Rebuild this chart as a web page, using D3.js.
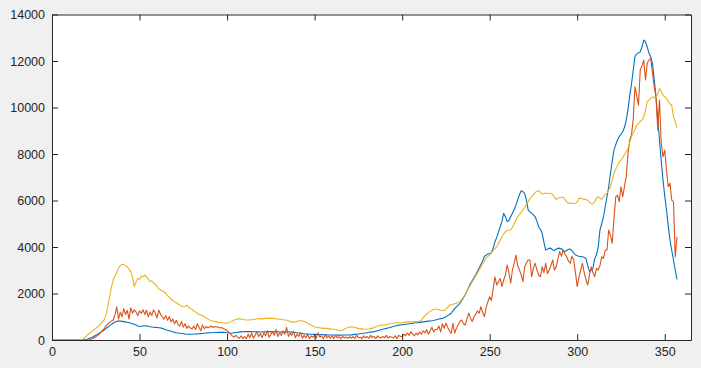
<!DOCTYPE html>
<html>
<head>
<meta charset="utf-8">
<title></title>
<style>
    body { margin: 0; background: #f0f0f0; }
    svg { font-family: 'Liberation Sans', Arial, sans-serif; }
    .tick text { fill: #262626; font-size: 12.5px; }
    .tick line, .domain { stroke: #262626; }
</style>
</head>
<body>
<figure style="margin:0"></figure>
<script src="https://d3js.org/d3.v7.min.js"></script>
<script>

// ---------- data (one value per day, day 0 .. 357) ----------
const xTicks = [0, 50, 100, 150, 200, 250, 300, 350]
const yTicks = [0, 2000, 4000, 6000, 8000, 10000, 12000, 14000]

const blue = [
    0,0,0,0,0,0,0,0,0,0,
    0,0,0,0,0,0,0,0,0,10,
    30,60,90,120,160,200,240,290,340,390,
    440,500,560,620,680,730,770,800,820,810,
    800,790,780,760,750,720,700,680,650,600,
    580,590,600,610,600,590,570,560,550,545,
    540,530,520,500,470,440,420,400,380,350,
    330,310,300,290,280,270,260,250,250,245,
    250,255,260,265,270,275,280,290,300,305,
    310,315,320,320,325,330,330,335,330,320,
    310,300,290,300,310,320,330,340,350,355,
    360,360,365,360,360,355,355,350,350,345,
    345,350,350,355,360,360,360,355,350,350,
    345,340,340,345,350,350,345,340,330,320,
    310,300,290,280,270,260,255,250,245,245,
    240,240,235,230,230,225,220,220,215,215,
    215,215,215,210,210,210,215,215,215,215,
    215,220,230,240,250,260,270,280,290,300,
    315,330,340,350,360,380,400,420,440,460,
    480,500,520,540,560,580,600,620,640,645,
    660,670,680,690,700,710,720,730,740,745,
    760,770,780,790,800,810,820,830,840,860,
    880,900,920,930,960,1000,1050,1100,1150,1250,
    1350,1420,1500,1580,1700,1820,1950,2100,2250,2440,
    2550,2680,2800,2950,3100,3250,3400,3600,3650,3700,
    3720,3750,3950,4230,4400,4650,4870,5100,5450,5300,
    5090,5150,5300,5450,5600,5800,6020,6250,6420,6380,
    6300,6020,5590,5520,5450,5380,5300,5100,4870,4750,
    4590,4200,3870,3900,3950,3940,3870,3850,3900,3950,
    3940,3920,3850,3800,3850,3900,3910,3850,3750,3655,
    3620,3600,3590,3580,3550,3510,3200,2940,3000,3080,
    3500,3655,4000,4730,5000,5300,5730,6160,6600,7170,
    7700,8170,8400,8600,8750,8850,8950,9150,9460,9900,
    10500,11000,11600,12200,12300,12350,12400,12600,12900,12830,
    12610,12330,12180,11900,11200,10460,9500,8600,7700,6880,
    6200,5590,4900,4300,3850,3440,3000,2610
]

const red = [
    0,0,0,0,0,0,0,0,0,0,
    0,0,0,0,0,0,0,0,0,0,
    0,0,20,50,100,140,200,260,350,420,
    500,620,700,760,820,860,1100,1430,900,1200,
    1000,1350,1100,1280,900,1380,1150,1300,1200,1050,
    1250,1150,1300,1100,1280,1000,1200,1050,1300,1150,
    950,1290,1100,1000,900,1050,850,1000,780,900,
    700,850,650,600,800,550,700,500,600,520,
    480,600,450,700,550,400,650,480,580,520,
    560,600,540,580,560,560,520,540,480,450,
    400,330,250,180,120,200,120,80,180,60,
    150,50,250,100,300,80,200,350,150,280,
    100,300,180,400,120,250,350,200,450,150,
    300,200,400,250,545,150,300,200,380,100,
    250,150,320,80,200,100,250,60,180,120,
    200,80,310,120,180,50,220,100,160,80,
    180,60,200,100,140,50,160,90,130,70,
    140,80,150,60,200,100,120,50,180,90,
    150,70,200,100,160,60,180,120,90,150,
    100,200,80,150,120,90,180,60,200,150,
    150,250,180,300,200,350,250,180,300,220,
    350,250,400,300,450,250,400,550,350,450,
    450,600,350,700,500,720,550,400,285,720,
    300,500,650,800,860,700,645,900,1160,950,
    790,1000,1100,1250,1150,1430,1200,1000,1400,1650,
    1860,1700,2200,2720,2365,2500,2650,2300,2580,2800,
    3225,2900,2440,3010,3300,3655,3200,3010,2800,2510,
    3150,3300,3440,3440,2720,3100,3300,3010,2800,2720,
    3150,2900,3300,2850,3010,3200,3440,3000,3150,3500,
    3800,3600,3870,3700,3580,3400,3300,3600,3440,2900,
    2290,2700,3010,3300,2900,2600,2365,2800,3150,2900,
    2720,3080,3010,3200,3580,3510,3870,3870,4730,4500,
    4160,5200,6160,6235,5950,6590,6160,6600,7020,8000,
    8600,8820,9500,10890,10500,10100,11610,11800,12040,11180,
    11900,12040,12110,11470,10900,10460,9030,10320,8460,7880,
    8170,7300,6590,6740,6020,5950,3580,4440
]

const yellow = [
    0,0,0,0,0,0,0,0,0,0,
    0,0,0,0,0,0,0,20,60,120,
    200,260,330,380,430,500,560,640,720,790,
    900,1100,1500,1900,2300,2600,2750,2900,3100,3200,
    3250,3255,3200,3150,3050,2940,2700,2300,2500,2650,
    2600,2750,2720,2800,2700,2620,2510,2550,2450,2400,
    2300,2200,2150,2100,2080,2000,1900,1850,1750,1700,
    1650,1600,1550,1500,1450,1430,1450,1500,1400,1350,
    1320,1250,1200,1150,1100,1075,1050,1000,950,900,
    860,830,817,800,780,760,750,740,730,730,
    720,740,780,820,860,880,903,920,900,880,
    870,860,860,860,870,880,890,900,920,920,
    910,920,930,930,930,940,930,920,910,900,
    890,880,870,860,850,830,800,780,760,780,
    800,830,830,820,800,760,720,680,640,600,
    560,545,530,520,510,500,500,500,490,480,
    470,460,450,430,410,400,420,460,500,540,
    560,570,560,540,520,500,490,480,470,460,
    460,470,490,510,540,570,600,620,640,645,
    650,660,680,700,710,720,730,740,745,745,
    750,760,770,780,780,780,785,790,790,790,
    800,850,950,1050,1120,1180,1230,1280,1320,1320,
    1320,1300,1280,1260,1270,1320,1400,1500,1520,1540,
    1560,1580,1620,1650,1750,1850,1980,2100,2230,2365,
    2500,2620,2750,2880,3000,3150,3280,3400,3530,3600,
    3655,3750,3850,3930,4010,4150,4300,4450,4560,4660,
    4700,4720,4730,4850,5000,5150,5300,5400,5500,5590,
    5700,5850,5950,6090,6160,6250,6350,6400,6420,6350,
    6280,6300,6320,6300,6310,6310,6250,6150,6050,6100,
    6120,6140,6140,6050,5950,5880,5900,5880,5870,5880,
    5950,6090,6100,6070,6050,6050,6000,5930,5870,5850,
    5950,6100,6160,6100,6050,6150,6250,6310,6450,6590,
    6900,7170,7350,7500,7650,7740,7850,7980,8100,8240,
    8500,8740,8900,9050,9250,9300,9400,9460,9600,9900,
    10250,10320,10390,10460,10420,10390,10600,10820,10700,10530,
    10460,10400,10250,10150,10100,9600,9390,9100
]

const seriesColors = ['#0072bd', '#d95319', '#edb120']

// ---------- svg setup ----------
const svgWidth = 701
const svgHeight = 368
const plot = { left: 52, right: 691, top: 14.5, bottom: 340 }

const svg = d3.select('figure')
    .append('svg')
    .attr('width', svgWidth)
    .attr('height', svgHeight)
    .style('display', 'block')

svg.append('rect')
    .attr('width', svgWidth)
    .attr('height', svgHeight)
    .attr('fill', '#f0f0f0')

svg.append('rect')
    .attr('x', plot.left)
    .attr('y', plot.top)
    .attr('width', plot.right - plot.left)
    .attr('height', plot.bottom - plot.top)
    .attr('fill', 'white')

// ---------- scales ----------
const xScale = d3.scaleLinear()
    .domain([0, 365])
    .range([plot.left, plot.right])

const yScale = d3.scaleLinear()
    .domain([0, 14000])
    .range([plot.bottom, plot.top])

// ---------- lines ----------
const line = d3.line()
    .x(function (d, i) { return xScale(i) })
    .y(function (d) { return yScale(d) })

const lines = svg.append('g');
const allSeries = [blue, red, yellow];
allSeries.forEach(function (s, k) {
    lines.append('path')
        .datum(s)
        .attr('d', line)
        .attr('fill', 'none')
        .attr('stroke', seriesColors[k])
        .attr('stroke-width', 1.1)
        .attr('stroke-linejoin', 'round')
})

// ---------- axes (ticks inward, mirrored on top/right) ----------
const plain = d3.format('d')

svg.append('g')
    .attr('transform', 'translate(0,' + plot.bottom + ')')
    .call(d3.axisBottom(xScale).tickValues(xTicks).tickFormat(plain).tickSizeInner(-6).tickSizeOuter(0).tickPadding(7))

svg.append('g')
    .attr('transform', 'translate(0,' + plot.top + ')')
    .call(d3.axisTop(xScale).tickValues(xTicks).tickSizeInner(-6).tickSizeOuter(0).tickFormat(''))

svg.append('g')
    .attr('transform', 'translate(' + plot.left + ',0)')
    .call(d3.axisLeft(yScale).tickValues(yTicks).tickFormat(plain).tickSizeInner(-6).tickSizeOuter(0).tickPadding(7))

svg.append('g')
    .attr('transform', 'translate(' + plot.right + ',0)')
    .call(d3.axisRight(yScale).tickValues(yTicks).tickSizeInner(-6).tickSizeOuter(0).tickFormat(''))

svg.selectAll('.domain').attr('stroke-width', 1)

</script>
</body>
</html>
